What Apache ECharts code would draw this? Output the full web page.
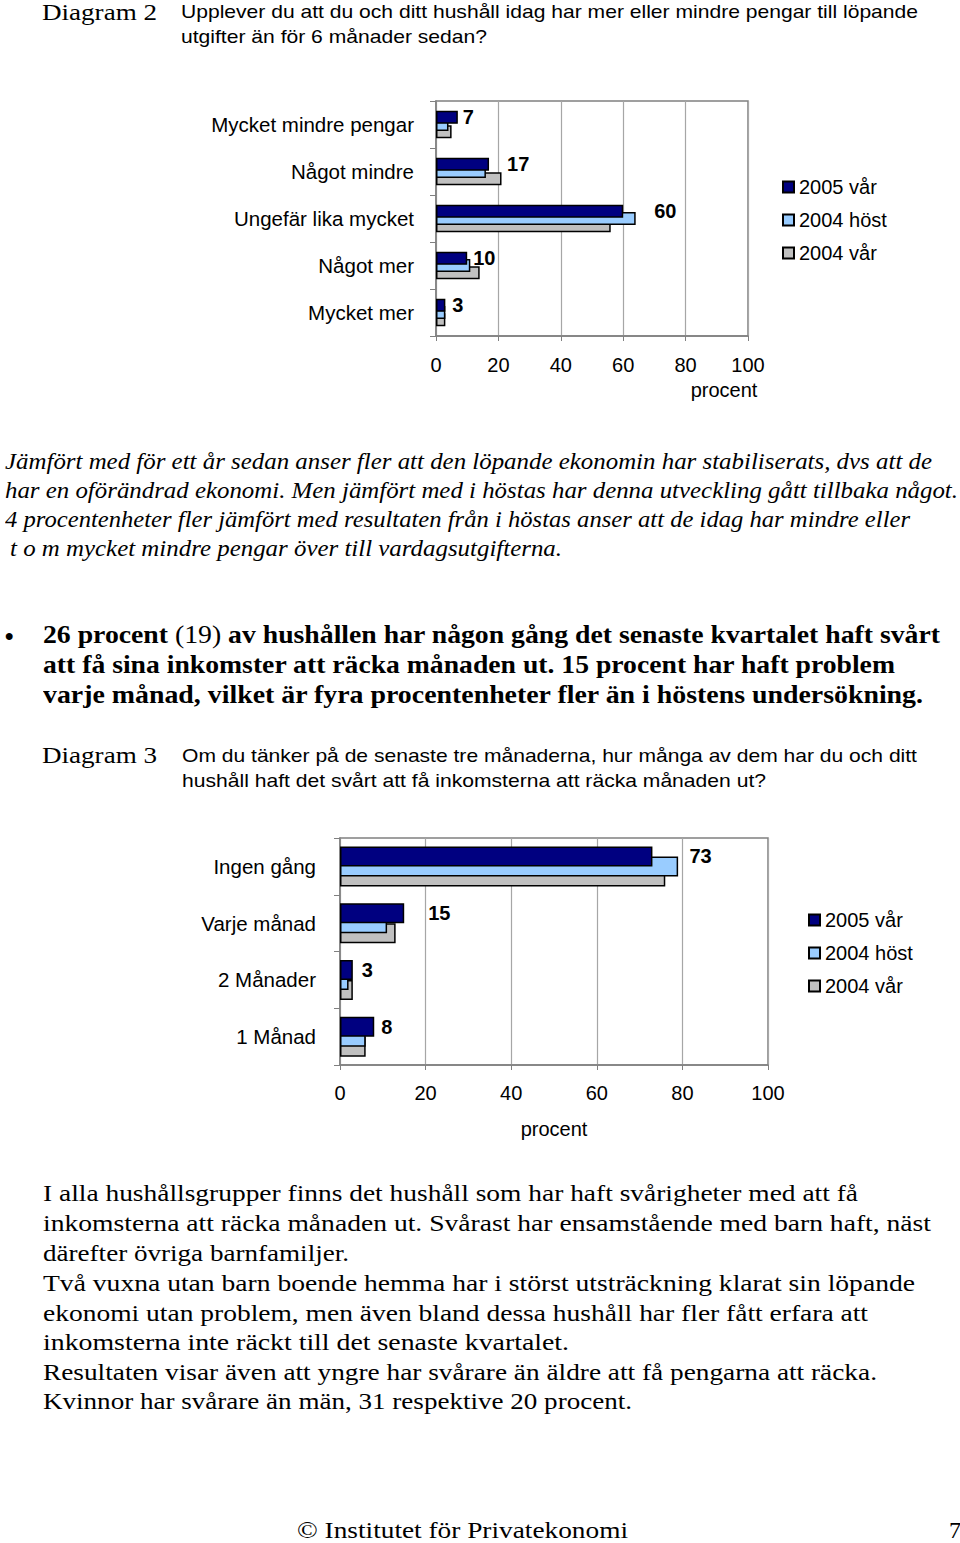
<!DOCTYPE html>
<html><head><meta charset="utf-8">
<script src="https://cdn.jsdelivr.net/npm/echarts@6/dist/echarts.min.js"></script>
<style>
html,body{margin:0;padding:0;background:#fff;}
#chart{position:absolute;left:0;top:0;width:960px;height:1543px;}
.t{position:absolute;white-space:nowrap;height:30px;line-height:30px;transform-origin:0 50%;color:#000;}
.sans{font-family:"Liberation Sans",Arial,sans-serif;}
.serif{font-family:"Liberation Serif","Times New Roman",serif;}
</style></head><body>
<div id="chart"></div>
<div id="text"></div>
<script>
// ---------- data ----------
const seriesNames = ['2005 vår', '2004 höst', '2004 vår'];
const categories1 = ['Mycket mindre pengar', 'Något mindre', 'Ungefär lika mycket', 'Något mer', 'Mycket mer'];
const d1_2005var  = [7, 17, 60, 10, 3];
const d1_2004host = [4, 16, 64, 11, 3];
const d1_2004var  = [5, 21, 56, 14, 3];
const categories2 = ['Ingen gång', 'Varje månad', '2 Månader', '1 Månad'];
const d2_2005var  = [73, 15, 3, 8];
const d2_2004host = [79, 11, 2, 6];
const d2_2004var  = [76, 13, 3, 6];
const axisMin = 0, axisMax = 100, axisStep = 20;
const axisName = 'procent';

// ---------- styles ----------
const colors = ['#000080', '#99ccff', '#c0c0c0'];
const labelDist1 = [5, 18, 31, 6, 7];
const labelDist2 = [37, 24, 9, 7];
const SANS = '"Liberation Sans", Arial, sans-serif';

// ---------- text ----------
const lines = [
  ['Diagram 2', 42, 12, 'serif', 24, 115],
  ['Upplever du att du och ditt hushåll idag har mer eller mindre pengar till löpande', 181, 12, 'sans', 19, 737],
  ['utgifter än för 6 månader sedan?', 181, 37, 'sans', 19, 306],
  ['<i>Jämfört med för ett år sedan anser fler att den löpande ekonomin har stabiliserats, dvs att de</i>', 5, 462, 'serif', 23, 927],
  ['<i>har en oförändrad ekonomi. Men jämfört med i höstas har denna utveckling gått tillbaka något.</i>', 5, 491, 'serif', 23, 953],
  ['<i>4 procentenheter fler jämfört med resultaten från i höstas anser att de idag har mindre eller</i>', 5, 520, 'serif', 23, 905],
  ['<i>t o m mycket mindre pengar över till vardagsutgifterna.</i>', 10, 549, 'serif', 23, 552],
  ['<b>•</b>', 5, 636, 'sans', 24, 0],
  ['<b>26 procent</b> (19) <b>av hushållen har någon gång det senaste kvartalet haft svårt</b>', 43, 635, 'serif', 25, 897],
  ['<b>att få sina inkomster att räcka månaden ut. 15 procent har haft problem</b>', 43, 665, 'serif', 25, 852],
  ['<b>varje månad, vilket är fyra procentenheter fler än i höstens undersökning.</b>', 43, 695, 'serif', 25, 880],
  ['Diagram 3', 42, 755, 'serif', 24, 115],
  ['Om du tänker på de senaste tre månaderna, hur många av dem har du och ditt', 182, 756, 'sans', 19, 735],
  ['hushåll haft det svårt att få inkomsterna att räcka månaden ut?', 182, 781, 'sans', 19, 584],
  ['I alla hushållsgrupper finns det hushåll som har haft svårigheter med att få', 43, 1193, 'serif', 24, 815],
  ['inkomsterna att räcka månaden ut. Svårast har ensamstående med barn haft, näst', 43, 1223, 'serif', 24, 888],
  ['därefter övriga barnfamiljer.', 43, 1253, 'serif', 24, 306],
  ['Två vuxna utan barn boende hemma har i störst utsträckning klarat sin löpande', 43, 1283, 'serif', 24, 872],
  ['ekonomi utan problem, men även bland dessa hushåll har fler fått erfara att', 43, 1313, 'serif', 24, 825],
  ['inkomsterna inte räckt till det senaste kvartalet.', 43, 1342, 'serif', 24, 526],
  ['Resultaten visar även att yngre har svårare än äldre att få pengarna att räcka.', 43, 1372, 'serif', 24, 834],
  ['Kvinnor har svårare än män, 31 respektive 20 procent.', 43, 1401, 'serif', 24, 589],
  ['© Institutet för Privatekonomi', 297, 1530, 'serif', 24, 331],
  ['7', 949, 1530, 'serif', 24, 0]
];
const host = document.getElementById('text');
lines.forEach(function (l) {
  const d = document.createElement('div');
  d.className = 't ' + l[3];
  d.innerHTML = l[0];
  d.style.left = l[1] + 'px';
  d.style.top = (l[2] - 15) + 'px';
  d.style.fontSize = l[4] + 'px';
  host.appendChild(d);
  if (l[5]) {
    const w = d.getBoundingClientRect().width;
    if (w > 0) d.style.transform = 'scaleX(' + (l[5] / w).toFixed(4) + ')';
  }
});

// ---------- chart ----------
const chart = echarts.init(document.getElementById('chart'), null, {renderer: 'svg'});

function makeSeries(gridIdx, datasets, dists, barW, gap) {
  return datasets.map(function (vals, i) {
    return {
      type: 'bar',
      name: seriesNames[i],
      xAxisIndex: gridIdx,
      yAxisIndex: gridIdx,
      z: 5 - i,
      barWidth: barW,
      barGap: gap,
      itemStyle: {color: colors[i], borderColor: '#000', borderWidth: 1.5},
      label: i === 0 ? {show: true, position: 'right', color: '#000', fontSize: 20,
        fontWeight: 'bold', fontFamily: SANS} : {show: false},
      emphasis: {disabled: true},
      data: vals.map(function (v, k) {
        return i === 0 ? {value: v, label: {distance: dists[k]}} : v;
      })
    };
  });
}

function xAx(gridIdx, nameGap, namePad, margin) {
  return {
    gridIndex: gridIdx, type: 'value', min: axisMin, max: axisMax, interval: axisStep,
    axisLine: {show: true, lineStyle: {color: '#808080', width: 1.5}},
    axisTick: {show: true, length: 5, lineStyle: {color: '#808080'}},
    splitLine: {show: true, lineStyle: {color: '#a6a6a6', width: 1.2}},
    axisLabel: {fontSize: 20, color: '#000', margin: margin, fontFamily: SANS},
    name: axisName, nameLocation: 'middle', nameGap: nameGap,
    nameTextStyle: {fontSize: 20, color: '#000', fontFamily: SANS, padding: namePad}
  };
}
function yAx(gridIdx, cats, margin) {
  return {
    gridIndex: gridIdx, type: 'category', data: cats, inverse: true,
    axisLine: {show: true, lineStyle: {color: '#808080', width: 1.5}},
    axisTick: {show: true, length: 6, lineStyle: {color: '#808080'}},
    axisLabel: {fontSize: 20.5, color: '#000', margin: margin, fontFamily: SANS}
  };
}
function legend(left, top) {
  return {
    left: left, top: top, orient: 'vertical', data: seriesNames.slice(),
    icon: 'rect', itemWidth: 11, itemHeight: 11, itemGap: 13, selectedMode: false,
    textStyle: {fontSize: 20, color: '#000', fontFamily: SANS}
  };
}

chart.setOption({
  animation: false,
  grid: [
    {left: 436, top: 101, width: 312, height: 235, show: true, borderColor: '#808080', borderWidth: 1.5},
    {left: 340, top: 838, width: 428, height: 227, show: true, borderColor: '#808080', borderWidth: 1.5}
  ],
  xAxis: [xAx(0, 44, [0, 0, 0, 264], 19), xAx(1, 54, [0, 0, 0, 0], 18)],
  yAxis: [yAx(0, categories1, 22), yAx(1, categories2, 24)],
  legend: [legend(777, 172), legend(803, 905)],
  series: makeSeries(0, [d1_2005var, d1_2004host, d1_2004var], labelDist1, 13, '-45%')
    .concat(makeSeries(1, [d2_2005var, d2_2004host, d2_2004var], labelDist2, 20, '-50%'))
});
</script>
</body></html>
